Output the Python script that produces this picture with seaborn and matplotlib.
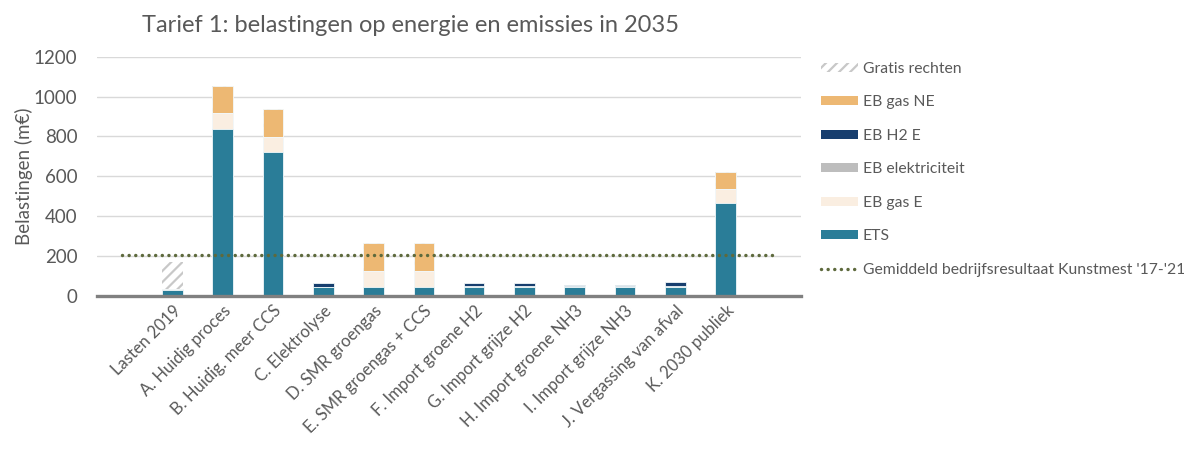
import matplotlib
matplotlib.use("Agg")
import matplotlib.pyplot as plt
import seaborn as sns
import pandas as pd
import numpy as np
from matplotlib.patches import Patch
from matplotlib.lines import Line2D

# ---- data ----
categories = ["Lasten 2019", "A. Huidig proces", "B. Huidig. meer CCS", "C. Elektrolyse",
              "D. SMR groengas", "E. SMR groengas + CCS", "F. Import groene H2",
              "G. Import grijze H2", "H. Import groene NH3", "I. Import grijze NH3",
              "J. Vergassing van afval", "K. 2030 publiek"]
ets            = [30, 836, 720, 42, 42, 42, 42, 42, 42, 42, 43, 466]
eb_gas_e       = [5, 80, 78, 0, 80, 80, 0, 0, 0, 0, 0, 68]
eb_elektr      = [0, 0, 0, 2, 0, 0, 6, 6, 8, 8, 6, 0]
eb_h2_e        = [0, 0, 0, 20, 0, 0, 18, 18, 4, 4, 18, 0]
eb_gas_ne      = [0, 138, 138, 0, 141, 141, 0, 0, 0, 0, 0, 88]
gratis_rechten = [133, 0, 0, 0, 0, 0, 0, 0, 0, 0, 0, 0]
gemiddeld_resultaat = 205

series_names = ["ETS", "EB gas E", "EB elektriciteit", "EB H2 E", "EB gas NE", "Gratis rechten"]
series_values = [ets, eb_gas_e, eb_elektr, eb_h2_e, eb_gas_ne, gratis_rechten]
colors = {"ETS": "#2A7D98", "EB gas E": "#FAEEE1", "EB elektriciteit": "#BDBDBD",
          "EB H2 E": "#173E6E", "EB gas NE": "#EDB873", "Gratis rechten": "white"}
line_color = "#5E6A3D"
text_color = "#595959"

sns.set_theme(style="white")
plt.rcParams["font.family"] = ["Lato", "DejaVu Sans"]
plt.rcParams["hatch.linewidth"] = 1.6

order = [""] + categories + [" "]

fig = plt.figure(figsize=(11.84, 4.5), dpi=100)
ax = fig.add_axes([97/1184, 1-295.7/450, (801-97)/1184, (295.7-56.7)/450])

# cumulative stacking
cum = np.cumsum(np.array(series_values, dtype=float), axis=0)
for i in reversed(range(len(series_names))):
    name = series_names[i]
    df = pd.DataFrame({"cat": categories, "val": cum[i]})
    if name == "Gratis rechten":
        sns.barplot(data=df, x="cat", y="val", order=order, color="white", saturation=1,
                    width=0.41, edgecolor="#C8C8C8", linewidth=0, hatch="///",
                    errorbar=None, ax=ax, zorder=3)
    else:
        sns.barplot(data=df, x="cat", y="val", order=order, color=colors[name], saturation=1,
                    width=0.41, edgecolor="#F2F8FA", linewidth=0.6,
                    errorbar=None, ax=ax, zorder=3)

# average line
ax.plot([0, len(order) - 1], [gemiddeld_resultaat, gemiddeld_resultaat],
        color=line_color, lw=2.5, linestyle=(0, (0.01, 1.9)), dash_capstyle="round", zorder=4)

ax.set_xlim(-0.5, len(order) - 0.5)
ax.set_ylim(0, 1200)
ax.set_yticks(range(0, 1201, 200))
ax.yaxis.grid(True, color="#D9D9D9", lw=1)
ax.set_axisbelow(True)
for s in ["left", "right", "top"]:
    ax.spines[s].set_visible(False)
ax.spines["bottom"].set_color("#808080")
ax.spines["bottom"].set_linewidth(2.4)
ax.spines["bottom"].set_zorder(5)
ax.tick_params(axis="both", length=0)
ax.tick_params(axis="y", pad=14, labelsize=13.5, labelcolor=text_color)
ax.tick_params(axis="x", pad=5, labelsize=12, labelcolor=text_color)
ax.set_xticks(range(len(order)))
ax.set_xticklabels(order, rotation=45, ha="right", rotation_mode="anchor")
ax.set_xlabel("")
ax.set_ylabel("Belastingen (m€)", fontsize=13.5, color=text_color, labelpad=1)

fig.text(411/1184, 1-26/450, "Tarief 1: belastingen op energie en emissies in 2035",
         ha="center", va="center", fontsize=17, color=text_color)

handles = [Patch(facecolor="white", edgecolor="#C8C8C8", hatch="///", lw=0)]
labels = ["Gratis rechten"]
for name in ["EB gas NE", "EB H2 E", "EB elektriciteit", "EB gas E", "ETS"]:
    handles.append(Patch(facecolor=colors[name], edgecolor="none"))
    labels.append(name)
handles.append(Line2D([0], [0], color=line_color, lw=2.5, linestyle=(0, (0.01, 1.9)),
                      dash_capstyle="round"))
labels.append("Gemiddeld bedrijfsresultaat Kunstmest '17-'21")

leg = fig.legend(handles, labels, loc="upper left", bbox_to_anchor=(821/1184, 1-62/450),
                 frameon=False, fontsize=11.3, handlelength=2.35, handleheight=0.5,
                 handletextpad=0.3, labelspacing=1.24, borderpad=0, borderaxespad=0)
for t in leg.get_texts():
    t.set_color(text_color)

fig.savefig("out.png", dpi=100)
